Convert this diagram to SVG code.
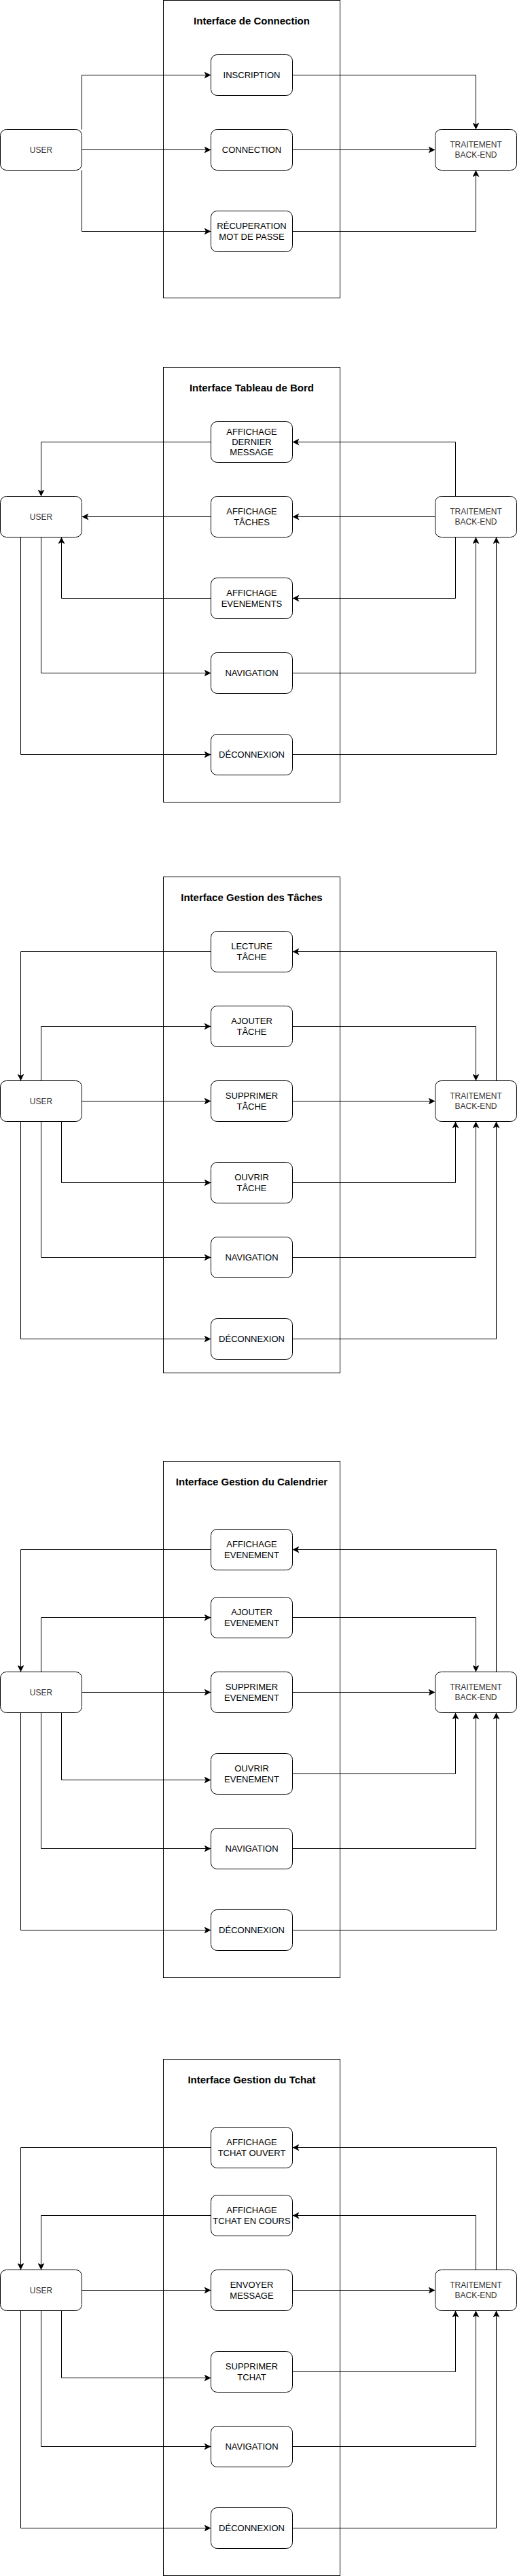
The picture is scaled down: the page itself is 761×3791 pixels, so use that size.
<svg xmlns="http://www.w3.org/2000/svg" width="761" height="3791" viewBox="0 0 761 3791">
<style>
.c{fill:#fff;stroke:#000;stroke-width:1}
.b{fill:#fff;stroke:#000;stroke-width:1}
.t{font-family:"Liberation Sans",Arial,Helvetica,sans-serif;font-size:13px;fill:#000;text-anchor:middle}
.u{font-family:"Liberation Sans",Arial,Helvetica,sans-serif;font-size:12px;fill:#333;text-anchor:middle}
.h{font-family:"Liberation Sans",Arial,Helvetica,sans-serif;font-size:15px;font-weight:bold;fill:#000;text-anchor:middle}
.e{fill:none;stroke:#000;stroke-width:1;marker-end:url(#a)}
</style>
<defs>
<marker id="a" markerUnits="userSpaceOnUse" markerWidth="10" markerHeight="10" viewBox="0 0 8 8" refX="8" refY="4" orient="auto">
<path d="M0,0 L8,4 L0,8 L2,4 Z" fill="#000"/>
</marker>
</defs>
<g transform="translate(0.5,0.5)">
<!-- containers -->
<g id="container-connection"><rect class="c" x="240" y="0" width="260" height="438"/><text class="h" x="370" y="35.4">Interface de Connection</text></g>
<g id="container-tableau"><rect class="c" x="240" y="540" width="260" height="640"/><text class="h" x="370" y="575.4">Interface Tableau de Bord</text></g>
<g id="container-taches"><rect class="c" x="240" y="1290" width="260" height="730"/><text class="h" x="370" y="1325.4">Interface Gestion des Tâches</text></g>
<g id="container-calendrier"><rect class="c" x="240" y="2150" width="260" height="760"/><text class="h" x="370" y="2185.4">Interface Gestion du Calendrier</text></g>
<g id="container-tchat"><rect class="c" x="240" y="3030" width="260" height="760"/><text class="h" x="370" y="3065.4">Interface Gestion du Tchat</text></g>

<!-- section 1 nodes -->
<g id="s1-user"><rect class="b" x="0" y="190" width="120" height="60" rx="9"/><text class="u" x="60" y="224.3">USER</text></g>
<g id="s1-inscription"><rect class="b" x="310" y="80" width="120" height="60" rx="9"/><text class="t" x="370" y="114.6">INSCRIPTION</text></g>
<g id="s1-connection"><rect class="b" x="310" y="190" width="120" height="60" rx="9"/><text class="t" x="370" y="224.6">CONNECTION</text></g>
<g id="s1-recuperation"><rect class="b" x="310" y="310" width="120" height="60" rx="9"/><text class="t" x="370" y="336.7">RÉCUPERATION</text><text class="t" x="370" y="352.7">MOT DE PASSE</text></g>
<g id="s1-backend"><rect class="b" x="640" y="190" width="120" height="60" rx="9"/><text class="u" x="700" y="216.8">TRAITEMENT</text><text class="u" x="700" y="231.8">BACK-END</text></g>

<!-- section 2 nodes -->
<g id="s2-user"><rect class="b" x="0" y="730" width="120" height="60" rx="9"/><text class="u" x="60" y="764.3">USER</text></g>
<g id="s2-dernier"><rect class="b" x="310" y="620" width="120" height="60" rx="9"/><text class="t" x="370" y="639.6">AFFICHAGE</text><text class="t" x="370" y="654.6">DERNIER</text><text class="t" x="370" y="669.6">MESSAGE</text></g>
<g id="s2-taches"><rect class="b" x="310" y="730" width="120" height="60" rx="9"/><text class="t" x="370" y="756.7">AFFICHAGE</text><text class="t" x="370" y="772.7">TÂCHES</text></g>
<g id="s2-evenements"><rect class="b" x="310" y="850" width="120" height="60" rx="9"/><text class="t" x="370" y="876.7">AFFICHAGE</text><text class="t" x="370" y="892.7">EVENEMENTS</text></g>
<g id="s2-navigation"><rect class="b" x="310" y="960" width="120" height="60" rx="9"/><text class="t" x="370" y="994.6">NAVIGATION</text></g>
<g id="s2-deconnexion"><rect class="b" x="310" y="1080" width="120" height="60" rx="9"/><text class="t" x="370" y="1114.6">DÉCONNEXION</text></g>
<g id="s2-backend"><rect class="b" x="640" y="730" width="120" height="60" rx="9"/><text class="u" x="700" y="756.8">TRAITEMENT</text><text class="u" x="700" y="771.8">BACK-END</text></g>

<!-- section 3 nodes -->
<g id="s3-user"><rect class="b" x="0" y="1590" width="120" height="60" rx="9"/><text class="u" x="60" y="1624.3">USER</text></g>
<g id="s3-lecture"><rect class="b" x="310" y="1370" width="120" height="60" rx="9"/><text class="t" x="370" y="1396.7">LECTURE</text><text class="t" x="370" y="1412.7">TÂCHE</text></g>
<g id="s3-ajouter"><rect class="b" x="310" y="1480" width="120" height="60" rx="9"/><text class="t" x="370" y="1506.7">AJOUTER</text><text class="t" x="370" y="1522.7">TÂCHE</text></g>
<g id="s3-supprimer"><rect class="b" x="310" y="1590" width="120" height="60" rx="9"/><text class="t" x="370" y="1616.7">SUPPRIMER</text><text class="t" x="370" y="1632.7">TÂCHE</text></g>
<g id="s3-ouvrir"><rect class="b" x="310" y="1710" width="120" height="60" rx="9"/><text class="t" x="370" y="1736.7">OUVRIR</text><text class="t" x="370" y="1752.7">TÂCHE</text></g>
<g id="s3-navigation"><rect class="b" x="310" y="1820" width="120" height="60" rx="9"/><text class="t" x="370" y="1854.6">NAVIGATION</text></g>
<g id="s3-deconnexion"><rect class="b" x="310" y="1940" width="120" height="60" rx="9"/><text class="t" x="370" y="1974.6">DÉCONNEXION</text></g>
<g id="s3-backend"><rect class="b" x="640" y="1590" width="120" height="60" rx="9"/><text class="u" x="700" y="1616.8">TRAITEMENT</text><text class="u" x="700" y="1631.8">BACK-END</text></g>

<!-- section 4 nodes -->
<g id="s4-user"><rect class="b" x="0" y="2460" width="120" height="60" rx="9"/><text class="u" x="60" y="2494.3">USER</text></g>
<g id="s4-affichage"><rect class="b" x="310" y="2250" width="120" height="60" rx="9"/><text class="t" x="370" y="2276.7">AFFICHAGE</text><text class="t" x="370" y="2292.7">EVENEMENT</text></g>
<g id="s4-ajouter"><rect class="b" x="310" y="2350" width="120" height="60" rx="9"/><text class="t" x="370" y="2376.7">AJOUTER</text><text class="t" x="370" y="2392.7">EVENEMENT</text></g>
<g id="s4-supprimer"><rect class="b" x="310" y="2460" width="120" height="60" rx="9"/><text class="t" x="370" y="2486.7">SUPPRIMER</text><text class="t" x="370" y="2502.7">EVENEMENT</text></g>
<g id="s4-ouvrir"><rect class="b" x="310" y="2580" width="120" height="60" rx="9"/><text class="t" x="370" y="2606.7">OUVRIR</text><text class="t" x="370" y="2622.7">EVENEMENT</text></g>
<g id="s4-navigation"><rect class="b" x="310" y="2690" width="120" height="60" rx="9"/><text class="t" x="370" y="2724.6">NAVIGATION</text></g>
<g id="s4-deconnexion"><rect class="b" x="310" y="2810" width="120" height="60" rx="9"/><text class="t" x="370" y="2844.6">DÉCONNEXION</text></g>
<g id="s4-backend"><rect class="b" x="640" y="2460" width="120" height="60" rx="9"/><text class="u" x="700" y="2486.8">TRAITEMENT</text><text class="u" x="700" y="2501.8">BACK-END</text></g>

<!-- section 5 nodes -->
<g id="s5-user"><rect class="b" x="0" y="3340" width="120" height="60" rx="9"/><text class="u" x="60" y="3374.3">USER</text></g>
<g id="s5-ouvert"><rect class="b" x="310" y="3130" width="120" height="60" rx="9"/><text class="t" x="370" y="3156.7">AFFICHAGE</text><text class="t" x="370" y="3172.7">TCHAT OUVERT</text></g>
<g id="s5-encours"><rect class="b" x="310" y="3230" width="120" height="60" rx="9"/><text class="t" x="370" y="3256.7">AFFICHAGE</text><text class="t" x="370" y="3272.7">TCHAT EN COURS</text></g>
<g id="s5-envoyer"><rect class="b" x="310" y="3340" width="120" height="60" rx="9"/><text class="t" x="370" y="3366.7">ENVOYER</text><text class="t" x="370" y="3382.7">MESSAGE</text></g>
<g id="s5-supprimer"><rect class="b" x="310" y="3460" width="120" height="60" rx="9"/><text class="t" x="370" y="3486.7">SUPPRIMER</text><text class="t" x="370" y="3502.7">TCHAT</text></g>
<g id="s5-navigation"><rect class="b" x="310" y="3570" width="120" height="60" rx="9"/><text class="t" x="370" y="3604.6">NAVIGATION</text></g>
<g id="s5-deconnexion"><rect class="b" x="310" y="3690" width="120" height="60" rx="9"/><text class="t" x="370" y="3724.6">DÉCONNEXION</text></g>
<g id="s5-backend"><rect class="b" x="640" y="3340" width="120" height="60" rx="9"/><text class="u" x="700" y="3366.8">TRAITEMENT</text><text class="u" x="700" y="3381.8">BACK-END</text></g>

<g id="connectors">
<path class="e" d="M120,190 L120,110 L310,110"/>
<path class="e" d="M120,220 L310,220"/>
<path class="e" d="M120,250 L120,340 L310,340"/>
<path class="e" d="M430,110 L700,110 L700,190"/>
<path class="e" d="M430,220 L640,220"/>
<path class="e" d="M430,340 L700,340 L700,250"/>

<path class="e" d="M310,650 L60,650 L60,730"/>
<path class="e" d="M310,760 L120,760"/>
<path class="e" d="M310,880 L90,880 L90,790"/>
<path class="e" d="M60,790 L60,990 L310,990"/>
<path class="e" d="M30,790 L30,1110 L310,1110"/>
<path class="e" d="M670,730 L670,650 L430,650"/>
<path class="e" d="M640,760 L430,760"/>
<path class="e" d="M670,790 L670,880 L430,880"/>
<path class="e" d="M430,990 L700,990 L700,790"/>
<path class="e" d="M430,1110 L730,1110 L730,790"/>

<path class="e" d="M310,1400 L30,1400 L30,1590"/>
<path class="e" d="M60,1590 L60,1510 L310,1510"/>
<path class="e" d="M120,1620 L310,1620"/>
<path class="e" d="M90,1650 L90,1740 L310,1740"/>
<path class="e" d="M60,1650 L60,1850 L310,1850"/>
<path class="e" d="M30,1650 L30,1970 L310,1970"/>
<path class="e" d="M730,1590 L730,1400 L430,1400"/>
<path class="e" d="M430,1510 L700,1510 L700,1590"/>
<path class="e" d="M430,1620 L640,1620"/>
<path class="e" d="M430,1740 L670,1740 L670,1650"/>
<path class="e" d="M430,1850 L700,1850 L700,1650"/>
<path class="e" d="M430,1970 L730,1970 L730,1650"/>

<path class="e" d="M310,2280 L30,2280 L30,2460"/>
<path class="e" d="M60,2460 L60,2380 L310,2380"/>
<path class="e" d="M120,2490 L310,2490"/>
<path class="e" d="M90,2520 L90,2619 L310,2619"/>
<path class="e" d="M60,2520 L60,2720 L310,2720"/>
<path class="e" d="M30,2520 L30,2840 L310,2840"/>
<path class="e" d="M730,2460 L730,2280 L430,2280"/>
<path class="e" d="M430,2380 L700,2380 L700,2460"/>
<path class="e" d="M430,2490 L640,2490"/>
<path class="e" d="M430,2610 L670,2610 L670,2520"/>
<path class="e" d="M430,2720 L700,2720 L700,2520"/>
<path class="e" d="M430,2840 L730,2840 L730,2520"/>

<path class="e" d="M310,3160 L30,3160 L30,3340"/>
<path class="e" d="M310,3260 L60,3260 L60,3340"/>
<path class="e" d="M120,3370 L310,3370"/>
<path class="e" d="M90,3400 L90,3499 L310,3499"/>
<path class="e" d="M60,3400 L60,3600 L310,3600"/>
<path class="e" d="M30,3400 L30,3720 L310,3720"/>
<path class="e" d="M730,3340 L730,3160 L430,3160"/>
<path class="e" d="M700,3340 L700,3260 L430,3260"/>
<path class="e" d="M430,3370 L640,3370"/>
<path class="e" d="M430,3490 L670,3490 L670,3400"/>
<path class="e" d="M430,3600 L700,3600 L700,3400"/>
<path class="e" d="M430,3720 L730,3720 L730,3400"/>
</g>
</g>
</svg>
